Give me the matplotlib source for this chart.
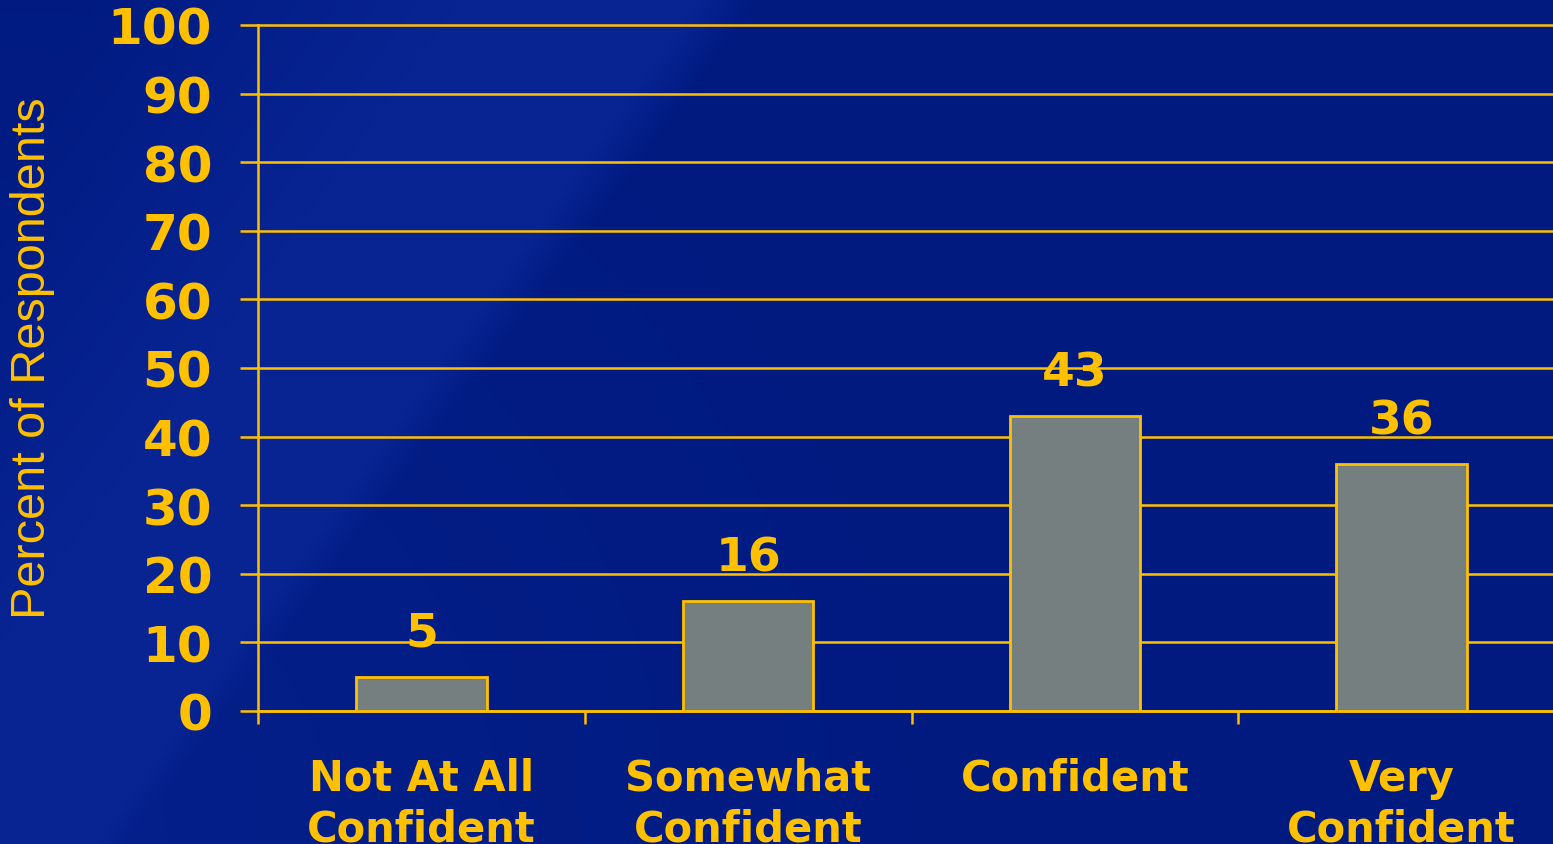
import numpy as np
import matplotlib.pyplot as plt

# Confianza de los encuestados
categorias = ["Not At All\nConfident", "Somewhat\nConfident", "Confident", "Very\nConfident"]
porcentajes = [5, 16, 43, 36]
ticks_y = [0, 10, 20, 30, 40, 50, 60, 70, 80, 90, 100]

amarillo = "#FFC000"
gris = "#767F7F"

fig = plt.figure(figsize=(15.53, 8.45), dpi=100)

# Fondo azul con banda diagonal más clara a la izquierda
ancho, alto = 1553, 845
xx, yy = np.meshgrid(np.arange(ancho), np.arange(alto))
u = xx + yy * (250 / 350)
oscuro = np.array([0, 26, 128]) / 255
claro = np.array([8, 36, 146]) / 255
subida = np.clip((u - 60) / 400, 0, 1)
bajada = np.clip((760 - u) / 60, 0, 1)
esquina = np.clip(1 - np.hypot(xx, alto - yy) / 1000, 0, 1) * 0.6
mezcla = np.maximum(subida * bajada, esquina)
fondo = oscuro + mezcla[..., None] * (claro - oscuro)
ax_fondo = fig.add_axes([0, 0, 1, 1])
ax_fondo.imshow(fondo, aspect="auto", extent=[0, 1, 0, 1])
ax_fondo.axis("off")

ax = fig.add_axes([258 / 1553, 133 / 845, 1307 / 1553, 686 / 845])
ax.patch.set_alpha(0)

x = np.arange(len(categorias))
ax.bar(x, porcentajes, width=0.4, color=gris, edgecolor=amarillo, linewidth=2, zorder=3)

for xi, v in zip(x, porcentajes):
    ax.annotate(str(v), (xi, v), xytext=(0, 15), textcoords="offset points",
                ha="center", va="bottom", fontsize=34, fontweight="bold",
                color=amarillo, family="DejaVu Sans")

ax.set_xlim(-0.5, 3.5)
ax.set_ylim(0, 100)
ax.set_yticks(ticks_y)
ax.set_yticklabels([str(t) for t in ticks_y], fontsize=36, fontweight="bold", color=amarillo)
ax.set_xticks(x)
ax.set_xticklabels(categorias, fontsize=30, fontweight="bold", color=amarillo,
                   linespacing=1.25)
ax.set_xticks(np.arange(-0.5, 3.0, 1.0), minor=True)

ax.tick_params(axis="y", length=13, width=1.8, color=amarillo, pad=20)
ax.tick_params(axis="x", which="major", length=0, pad=33)
ax.tick_params(axis="x", which="minor", length=9.5, width=1.8, color=amarillo)

ax.grid(axis="y", color=amarillo, linewidth=1.8, zorder=1)
for gl in ax.get_ygridlines():
    gl.set_clip_on(False)
ax.set_axisbelow(True)

for lado in ["top", "right"]:
    ax.spines[lado].set_visible(False)
for lado in ["left", "bottom"]:
    ax.spines[lado].set_color(amarillo)
    ax.spines[lado].set_linewidth(1.8)

fig.text(33 / 1553, 1 - 358 / 845, "Percent of Respondents", rotation=90,
         ha="center", va="center", fontsize=35, color=amarillo,
         family="Liberation Sans")

fig.savefig("out.png", dpi=100)
